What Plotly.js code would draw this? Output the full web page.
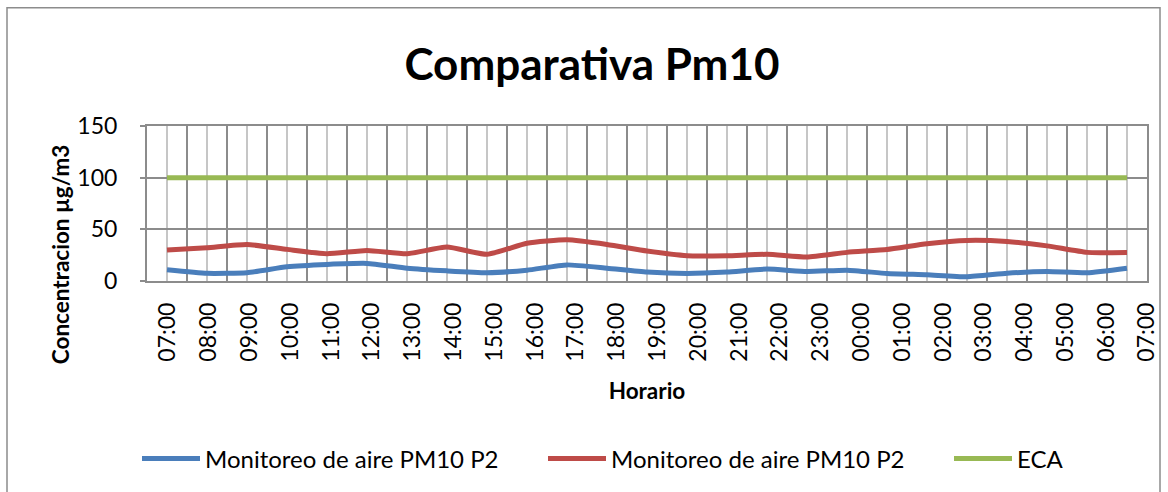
<!DOCTYPE html>
<html>
<head>
<meta charset="utf-8">
<script src="https://cdn.plot.ly/plotly-3.0.1.min.js"></script>
<style>html,body{margin:0;padding:0;background:#fff;}#chart{width:1168px;height:492px;}</style>
</head>
<body>
<div id="chart"></div>
<script>
const hours = ["07:00","08:00","09:00","10:00","11:00","12:00","13:00","14:00","15:00","16:00","17:00","18:00","19:00","20:00","21:00","22:00","23:00","00:00","01:00","02:00","03:00","04:00","05:00","06:00","07:00"];
const monitoreoA = [10.8, 7.4, 8.0, 13.7, 16.0, 17.0, 12.4, 9.8, 8.0, 10.5, 15.6, 12.4, 8.6, 7.3, 8.6, 11.5, 9.2, 10.5, 7.3, 6.0, 4.1, 7.5, 9.2, 8.0, 12.4];
const monitoreoB = [29.9, 32.2, 35.3, 30.6, 26.4, 29.6, 26.4, 32.8, 25.8, 36.6, 39.8, 35.3, 29.0, 24.5, 24.5, 25.8, 23.2, 27.7, 30.5, 36.0, 39.2, 38.2, 34.0, 27.7, 27.7];
const eca = [100,100,100,100,100,100,100,100,100,100,100,100,100,100,100,100,100,100,100,100,100,100,100,100,100];
const seriesNames = ["Monitoreo de aire PM10 P2", "Monitoreo de aire PM10 P2", "ECA"];

const idx = hours.map((h, i) => i);
const FONT = "Lato, 'Open Sans', sans-serif";

// plot area geometry (px)
const L = 147, W = 1000, B = 282, H = 156;
const px = v => (v - L) / W;
const py = v => (B - v) / H;

const traces = [
  {x: idx, y: monitoreoA, name: seriesNames[0], type: 'scatter', mode: 'lines', legend: 'legend',
   line: {color: '#4A7EBB', width: 5, shape: 'spline', smoothing: 0.5}},
  {x: idx, y: monitoreoB, name: seriesNames[1], type: 'scatter', mode: 'lines', legend: 'legend2',
   line: {color: '#BE4B48', width: 5, shape: 'spline', smoothing: 0.5}},
  {x: idx, y: eca, name: seriesNames[2], type: 'scatter', mode: 'lines', legend: 'legend3',
   line: {color: '#98B954', width: 5}},
  // invisible helper so the hour-label axis gets drawn
  {x: idx, y: eca, xaxis: 'x2', yaxis: 'y', type: 'scatter', mode: 'lines', opacity: 0,
   line: {width: 0}, showlegend: false, hoverinfo: 'skip'}
];

const legendBase = {orientation: 'h', xanchor: 'left', yanchor: 'middle', y: py(459),
  font: {family: FONT, size: 24, color: '#000'}, itemwidth: 58, bgcolor: 'rgba(0,0,0,0)', borderwidth: 0};

const layout = {
  width: 1168, height: 492,
  margin: {l: L, r: 1168 - L - W, t: B - H, b: 492 - B},
  paper_bgcolor: '#ffffff', plot_bgcolor: '#ffffff',
  font: {family: FONT, color: '#000000', size: 22},
  showlegend: true,
  title: {text: '<b>Comparativa Pm10</b>', font: {family: FONT, size: 44, color: '#000'},
          x: 592 / 1168, xanchor: 'center', xref: 'container', y: 1 - 65 / 492, yanchor: 'middle', yref: 'container'},
  xaxis: {
    range: [-0.5, 24.5], tickmode: 'linear', tick0: 0, dtick: 1, showticklabels: false,
    showgrid: true, gridcolor: '#C6C6C6', gridwidth: 2,
    minor: {tickmode: 'linear', tick0: 0, dtick: 0.5, showgrid: true, gridcolor: '#8C8C8C', gridwidth: 2, ticks: ''},
    showline: true, linecolor: '#8C8C8C', linewidth: 2, mirror: true,
    ticks: '', zeroline: false, fixedrange: true
  },
  xaxis2: {
    overlaying: 'x', anchor: 'y', side: 'bottom',
    range: [-0.515, 24.0], tickmode: 'array', tickvals: idx, ticktext: hours,
    tickangle: -90, tickfont: {family: FONT, size: 23, color: '#000'},
    showgrid: false, showline: false, ticks: '', ticklabelstandoff: 16, zeroline: false, fixedrange: true,
    title: {text: '<b>Horario</b>', font: {family: FONT, size: 22.5, color: '#000'}, standoff: 22}
  },
  yaxis: {
    range: [0, 150], tickmode: 'linear', tick0: 0, dtick: 50,
    tickfont: {family: FONT, size: 23, color: '#000'},
    showgrid: true, gridcolor: '#8C8C8C', gridwidth: 2,
    showline: true, linecolor: '#8C8C8C', linewidth: 2, mirror: true,
    ticks: 'outside', ticklen: 5, tickcolor: '#8C8C8C', tickwidth: 2, ticklabelstandoff: 18,
    zeroline: false, fixedrange: true
  },
  legend: Object.assign({}, legendBase, {x: px(137)}),
  legend2: Object.assign({}, legendBase, {x: px(543)}),
  legend3: Object.assign({}, legendBase, {x: px(949)}),
  annotations: [
    {text: '<b>Concentracion µg/m3</b>', textangle: -90, xref: 'paper', yref: 'paper',
     x: px(60), y: py(255), xanchor: 'center', yanchor: 'middle',
     showarrow: false, font: {family: FONT, size: 22.5, color: '#000'}}
  ],
  shapes: [
    {type: 'rect', xref: 'paper', yref: 'paper', x0: px(7), x1: px(1160),
     y0: py(500), y1: py(7), line: {color: '#8C8C8C', width: 1.5}, fillcolor: 'rgba(0,0,0,0)', layer: 'below'}
  ]
};

Plotly.newPlot('chart', traces, layout, {displayModeBar: false, staticPlot: true});
</script>
</body>
</html>
